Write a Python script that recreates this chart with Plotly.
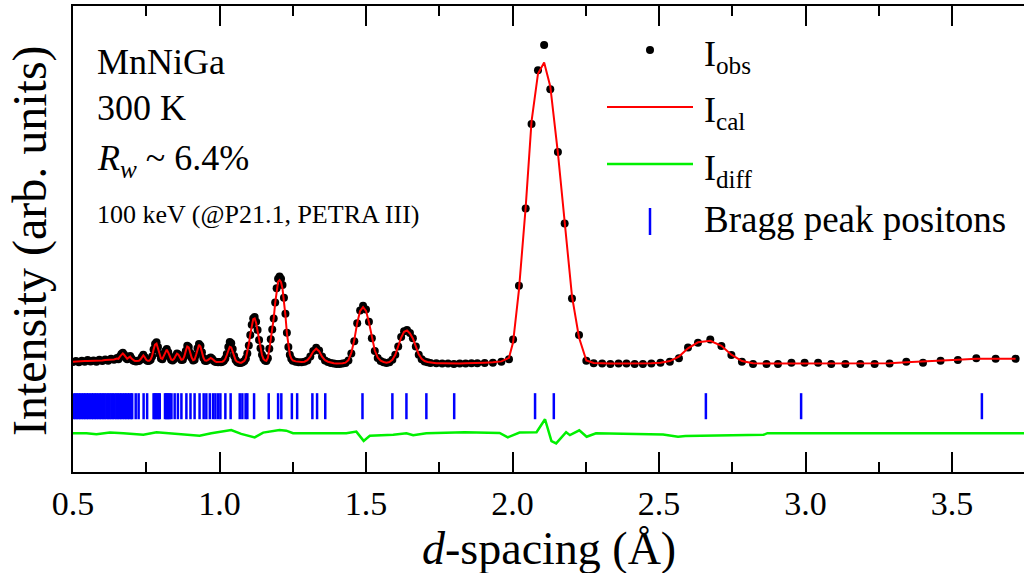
import plotly.graph_objects as go

# ---------------- data ----------------
# observed profile: d-spacing (Å) and intensity (arb. units, baseline = 0)
d_obs_a = [0.50, 0.51, 0.52, 0.53, 0.54, 0.55, 0.56, 0.57, 0.58, 0.59, 0.60, 0.61, 0.62, 0.63, 0.64, 0.65]
i_obs_a = [0.3, 0.6, 0.2, 0.7, 0.4, 0.9, 0.5, 0.8, 0.4, 1.0, 0.6, 1.1, 0.7, 1.3, 1.0, 1.6]
i_cal_a = [0.4, 0.5, 0.5, 0.5, 0.6, 0.6, 0.6, 0.7, 0.6, 0.8, 0.8, 0.9, 0.9, 1.1, 1.1, 1.4]

d_obs_b = [0.655, 0.660, 0.665, 0.670, 0.675, 0.680, 0.685, 0.690, 0.695, 0.700,
           0.705, 0.710, 0.715, 0.720, 0.725, 0.730, 0.735, 0.740, 0.745, 0.750,
           0.755, 0.760, 0.765, 0.770, 0.775, 0.780, 0.785, 0.790, 0.795, 0.800,
           0.805, 0.810, 0.815, 0.820, 0.825, 0.830, 0.835, 0.840, 0.845, 0.850,
           0.855, 0.860, 0.865, 0.870, 0.875, 0.880, 0.885, 0.890, 0.895, 0.900,
           0.905, 0.910, 0.915, 0.920, 0.925, 0.930, 0.935, 0.940, 0.945, 0.950,
           0.955, 0.960, 0.965, 0.970, 0.975, 0.980, 0.985, 0.990, 0.995, 1.000,
           1.005, 1.010, 1.015, 1.020, 1.025, 1.030, 1.035, 1.040, 1.045, 1.050,
           1.055, 1.060, 1.065, 1.070, 1.075, 1.080, 1.085, 1.090, 1.095, 1.100,
           1.105, 1.110, 1.115, 1.120, 1.125, 1.130, 1.135, 1.140, 1.145, 1.150,
           1.155, 1.160, 1.165, 1.170, 1.175, 1.180, 1.185, 1.190, 1.195, 1.200,
           1.205, 1.210, 1.215, 1.220, 1.225, 1.230, 1.235, 1.240, 1.245, 1.250]
i_obs_b = [1.2, 2.0, 2.8, 3.2, 2.6, 1.6, 1.2, 1.8, 2.2, 1.4,
           0.8, 0.6, 0.5, 0.7, 0.6, 1.0, 1.9, 2.6, 1.8, 0.9,
           0.6, 0.7, 1.0, 2.0, 4.2, 6.0, 6.5, 5.0, 2.8, 1.4,
           1.2, 2.4, 3.8, 4.4, 3.4, 1.9, 1.0, 0.8, 1.2, 2.2,
           3.0, 2.7, 1.6, 0.9, 1.0, 2.0, 3.8, 5.4, 5.0, 3.2,
           1.6, 0.8, 1.0, 2.4, 4.6, 6.0, 5.4, 3.4, 1.6, 0.7,
           0.6, 0.9, 1.4, 1.7, 1.3, 0.7, 0.4, 0.3, 0.2, 0.3,
           0.2, 0.4, 0.7, 1.4, 2.8, 5.0, 6.6, 6.2, 4.4, 2.2,
           0.9, 0.3, 0.1, 0.0, 0.1, 0.3, 0.6, 1.4, 3.0, 5.5,
           8.8, 12.0, 14.0, 14.5, 13.0, 10.4, 7.2, 4.6, 2.6, 1.4,
           0.8, 0.6, 1.5, 4.5, 7.5, 10.5, 14.0, 19.0, 23.5, 26.5,
           27.2, 26.5, 24.5, 20.5, 15.5, 9.5, 5.0, 2.6, 1.3, 0.7]
i_cal_b = [1.3, 2.0, 2.7, 3.0, 2.5, 1.7, 1.3, 1.7, 2.0, 1.4,
           0.9, 0.7, 0.6, 0.6, 0.7, 1.1, 1.9, 2.4, 1.8, 1.0,
           0.7, 0.7, 1.1, 2.2, 4.2, 5.8, 6.1, 4.8, 2.8, 1.5,
           1.3, 2.4, 3.7, 4.2, 3.3, 1.9, 1.1, 0.9, 1.3, 2.2,
           2.9, 2.6, 1.6, 1.0, 1.1, 2.1, 3.8, 5.2, 4.9, 3.2,
           1.7, 0.9, 1.1, 2.5, 4.5, 5.7, 5.2, 3.4, 1.7, 0.8,
           0.7, 0.9, 1.3, 1.6, 1.3, 0.8, 0.5, 0.3, 0.3, 0.3,
           0.3, 0.4, 0.7, 1.3, 2.5, 4.2, 5.1, 4.9, 3.6, 2.0,
           0.9, 0.4, 0.2, 0.1, 0.1, 0.3, 0.7, 1.5, 3.2, 5.8,
           9.0, 12.0, 13.8, 14.0, 12.6, 10.0, 7.0, 4.4, 2.5, 1.3,
           0.8, 0.7, 1.6, 4.3, 7.4, 10.4, 14.0, 18.8, 23.0, 25.6,
           26.1, 25.4, 23.4, 19.8, 15.0, 9.4, 5.0, 2.6, 1.4, 0.8]

d_obs_c = [1.26, 1.27, 1.28, 1.29, 1.30, 1.31, 1.32, 1.33, 1.34, 1.35,
           1.36, 1.37, 1.38, 1.39, 1.40, 1.41, 1.42, 1.43, 1.44, 1.45,
           1.46, 1.47, 1.48, 1.49, 1.50, 1.51, 1.52, 1.53, 1.54, 1.55,
           1.56, 1.57, 1.58, 1.59, 1.60, 1.61, 1.62, 1.63, 1.64, 1.65,
           1.66, 1.67, 1.68, 1.69, 1.70, 1.71, 1.72]
i_obs_c = [0.4, 0.2, 0.2, 0.4, 0.8, 2.0, 3.8, 4.8, 3.9, 2.0,
           0.8, 0.3, 0.0, -0.2, -0.3, -0.3, -0.2, 0.0, 0.8, 3.0,
           6.8, 12.5, 16.5, 18.0, 16.8, 13.0, 7.8, 3.8, 1.6, 0.6,
           0.2, 0.0, 0.2, 1.0, 2.6, 5.2, 8.2, 10.0, 10.4, 9.4,
           7.8, 5.2, 2.6, 1.2, 0.5, 0.2, 0.0]
i_cal_c = [0.5, 0.3, 0.3, 0.4, 0.9, 2.0, 3.6, 4.5, 3.7, 2.0,
           0.9, 0.4, 0.1, -0.1, -0.2, -0.2, -0.1, 0.1, 0.9, 3.2,
           7.2, 12.6, 16.4, 17.6, 16.4, 12.8, 7.8, 3.9, 1.7, 0.7,
           0.3, 0.1, 0.3, 1.0, 2.6, 5.2, 8.0, 9.8, 10.2, 9.3,
           7.7, 5.2, 2.7, 1.3, 0.6, 0.3, 0.1]

d_obs_d = [1.74, 1.76, 1.78, 1.80, 1.82, 1.84, 1.86, 1.88]
i_obs_d = [-0.1, -0.2, -0.2, -0.3, -0.2, -0.2, -0.1, -0.1]
i_cal_d = [-0.1, -0.1, -0.2, -0.2, -0.2, -0.1, -0.1, 0.0]

d_obs_e = [1.905, 1.933, 1.962, 1.988, 2.002, 2.022, 2.045, 2.065, 2.087, 2.108,
           2.129, 2.155, 2.178, 2.203, 2.227, 2.252, 2.277, 2.306, 2.334, 2.362,
           2.389, 2.417, 2.445, 2.474, 2.505, 2.537, 2.568, 2.599, 2.633, 2.675,
           2.713, 2.747, 2.783, 2.821, 2.867, 2.906, 2.952, 2.997, 3.043, 3.088,
           3.136, 3.187, 3.236, 3.287, 3.344, 3.401, 3.461, 3.520, 3.583, 3.649,
           3.717]
i_obs_e = [0.0, 0.1, 0.4, 1.2, 7.4, 24.3, 48.6, 75.2, 92.1, 100.0,
           86.1, 66.4, 43.9, 20.3, 8.8, 0.7, -0.1, -0.2, -0.3, -0.2,
           -0.2, -0.3, -0.3, -0.2, 0.1, 0.4, 1.5, 4.9, 6.4, 7.4,
           5.3, 2.5, 0.4, -0.3, -0.3, -0.3, 0.1, 0.1, 0.1, -0.3,
           -0.3, -0.3, -0.3, -0.2, 0.4, 0.1, 0.7, 0.9, 1.5, 1.3,
           1.3]
i_cal_e = [0.1, 0.2, 0.5, 1.6, 6.5, 23.0, 49.0, 76.0, 91.0, 94.5,
           87.0, 66.0, 44.0, 21.0, 8.0, 0.8, 0.0, -0.2, -0.2, -0.2,
           -0.2, -0.2, -0.2, -0.1, 0.1, 0.6, 2.0, 4.6, 6.5, 7.0,
           5.4, 2.6, 0.6, -0.1, -0.2, -0.2, -0.1, 0.0, 0.0, -0.1,
           -0.2, -0.2, -0.2, -0.1, 0.2, 0.4, 0.7, 1.0, 1.3, 1.3,
           1.3]

# difference curve (plotted with its offset below the pattern)
d_diff = [0.50, 0.546, 0.580, 0.626, 0.672, 0.740, 0.785, 0.830, 0.898, 0.932,
          0.972, 1.040, 1.074, 1.120, 1.149, 1.205, 1.228, 1.251, 1.433, 1.467,
          1.492, 1.513, 1.593, 1.638, 1.661, 1.706, 1.837, 1.956, 1.984, 2.024,
          2.082, 2.111, 2.133, 2.149, 2.183, 2.196, 2.228, 2.253, 2.285, 2.412,
          2.514, 2.565, 2.590, 2.857, 2.870, 3.746]
i_diff = [-22.1, -22.1, -22.4, -21.9, -22.1, -22.6, -21.8, -22.1, -22.6, -22.9,
          -22.1, -21.1, -22.3, -23.4, -21.9, -21.1, -21.3, -22.1, -22.1, -21.6,
          -24.5, -22.9, -22.6, -22.1, -22.7, -22.1, -21.8, -22.0, -23.4, -21.9,
          -21.8, -17.7, -24.6, -25.3, -21.8, -22.7, -21.2, -23.2, -22.1, -22.3,
          -22.5, -23.2, -23.0, -22.6, -22.1, -22.1]

# Bragg reflection positions (Å)
bragg_d = [0.502, 0.508, 0.513, 0.519, 0.524, 0.530, 0.536, 0.541, 0.547, 0.552,
           0.558, 0.564, 0.569, 0.575, 0.580, 0.586, 0.592, 0.597, 0.603, 0.608,
           0.614, 0.620, 0.625, 0.631, 0.636, 0.642, 0.648, 0.653, 0.659, 0.664,
           0.670, 0.676, 0.681, 0.687, 0.692, 0.698, 0.702, 0.714, 0.724, 0.741,
           0.753, 0.775, 0.779, 0.783, 0.788, 0.792, 0.796, 0.814, 0.818, 0.822,
           0.826, 0.830, 0.836, 0.847, 0.858, 0.870, 0.887, 0.901, 0.915, 0.932,
           0.946, 0.955, 0.967, 0.978, 0.986, 0.995, 1.003, 1.020, 1.038, 1.069,
           1.078, 1.089, 1.095, 1.118, 1.168, 1.200, 1.211, 1.247, 1.265, 1.317,
           1.333, 1.361, 1.488, 1.590, 1.638, 1.706, 1.801, 2.077, 2.141, 2.660,
           2.985, 3.602]
bragg_lo = -17.7
bragg_hi = -9.5

x_tick_vals = [0.5, 1.0, 1.5, 2.0, 2.5, 3.0, 3.5]
x_tick_text = ["0.5", "1.0", "1.5", "2.0", "2.5", "3.0", "3.5"]

# ---------------- figure ----------------
d_obs = d_obs_a + d_obs_b + d_obs_c + d_obs_d + d_obs_e
i_obs = i_obs_a + i_obs_b + i_obs_c + i_obs_d + i_obs_e
i_cal = i_cal_a + i_cal_b + i_cal_c + i_cal_d + i_cal_e

bx, by = [], []
for d in bragg_d:
    bx += [d, d, None]
    by += [bragg_lo, bragg_hi, None]

FONT = "Liberation Serif"
W, H = 1024, 573
L, R, T, B = 73, 0, 6, 101
PW, PH = W - L - R, H - T - B


def px(x):
    return (x - L) / PW


def py(y):
    return (H - B - y) / PH


fig = go.Figure()
fig.add_trace(go.Scatter(x=d_diff, y=i_diff, mode="lines",
                         line=dict(color="#00f000", width=2.5), line_shape="linear"))
fig.add_trace(go.Scatter(x=bx, y=by, mode="lines",
                         line=dict(color="#0000ff", width=2.5)))
fig.add_trace(go.Scatter(x=d_obs, y=i_obs, mode="markers",
                         marker=dict(color="black", size=8, line=dict(width=0))))
fig.add_trace(go.Scatter(x=d_obs, y=i_cal, mode="lines",
                         line=dict(color="#ff0000", width=2)))

ann = []
# sample info text
ann.append(dict(x=px(95), y=py(62), text="MnNiGa", font=dict(size=36)))
ann.append(dict(x=px(95), y=py(108), text="300 K", font=dict(size=36)))
ann.append(dict(x=px(95), y=py(160), text="<i>R</i><sub><i>w</i></sub> ~ 6.4%", font=dict(size=36)))
ann.append(dict(x=px(95), y=py(215), text="100 keV (@P21.1, PETRA III)", font=dict(size=26)))
# legend texts
ann.append(dict(x=px(702), y=py(57), text="I<sub>obs</sub>", font=dict(size=36)))
ann.append(dict(x=px(702), y=py(113), text="I<sub>cal</sub>", font=dict(size=36)))
ann.append(dict(x=px(702), y=py(170), text="I<sub>diff</sub>", font=dict(size=36)))
ann.append(dict(x=px(702), y=py(220), text="Bragg peak positons", font=dict(size=37)))
for a in ann:
    a.update(xref="paper", yref="paper", xanchor="left", yanchor="middle",
             showarrow=False)
    a["font"].update(family=FONT, color="black")
# axis titles
ann.append(dict(x=px(549), y=py(548), xref="paper", yref="paper", showarrow=False,
                xanchor="center", yanchor="middle",
                text="<i>d</i>-spacing (Å)", font=dict(family=FONT, size=46, color="black")))
ann.append(dict(x=px(30), y=py(241), xref="paper", yref="paper", showarrow=False,
                xanchor="center", yanchor="middle", textangle=-90,
                text="Intensity (arb. units)", font=dict(family=FONT, size=48, color="black")))

shapes = [
    dict(type="circle", xref="paper", yref="paper", x0=px(646), x1=px(654),
         y0=py(46), y1=py(54), fillcolor="black", line=dict(width=0)),
    dict(type="line", xref="paper", yref="paper", x0=px(607), x1=px(693),
         y0=py(107), y1=py(107), line=dict(color="#ff0000", width=2)),
    dict(type="line", xref="paper", yref="paper", x0=px(607), x1=px(693),
         y0=py(164), y1=py(164), line=dict(color="#00f000", width=2.5)),
    dict(type="line", xref="paper", yref="paper", x0=px(650), x1=px(650),
         y0=py(208), y1=py(235), line=dict(color="#0000ff", width=2.5)),
]

fig.update_layout(
    width=W, height=H,
    margin=dict(l=L, r=R, t=T, b=B, pad=0),
    paper_bgcolor="white", plot_bgcolor="white",
    showlegend=False,
    font=dict(family=FONT, color="black"),
    annotations=ann, shapes=shapes,
    xaxis=dict(range=[0.5, 0.5 + PW / 293.0], tickvals=x_tick_vals, ticktext=x_tick_text,
               ticks="inside", ticklen=20, tickwidth=2, tickcolor="black",
               minor=dict(ticks="inside", ticklen=10, tickwidth=2, tickcolor="black",
                          tick0=0.5, dtick=0.25),
               showline=True, linewidth=2, linecolor="black", mirror="allticks",
               showgrid=False, zeroline=False,
               tickfont=dict(family=FONT, size=34, color="black")),
    yaxis=dict(range=[-34.3, 112.3], showticklabels=False, ticks="",
               showline=True, linewidth=2, linecolor="black", mirror=False,
               showgrid=False, zeroline=False),
)

fig.write_html("out.html")
